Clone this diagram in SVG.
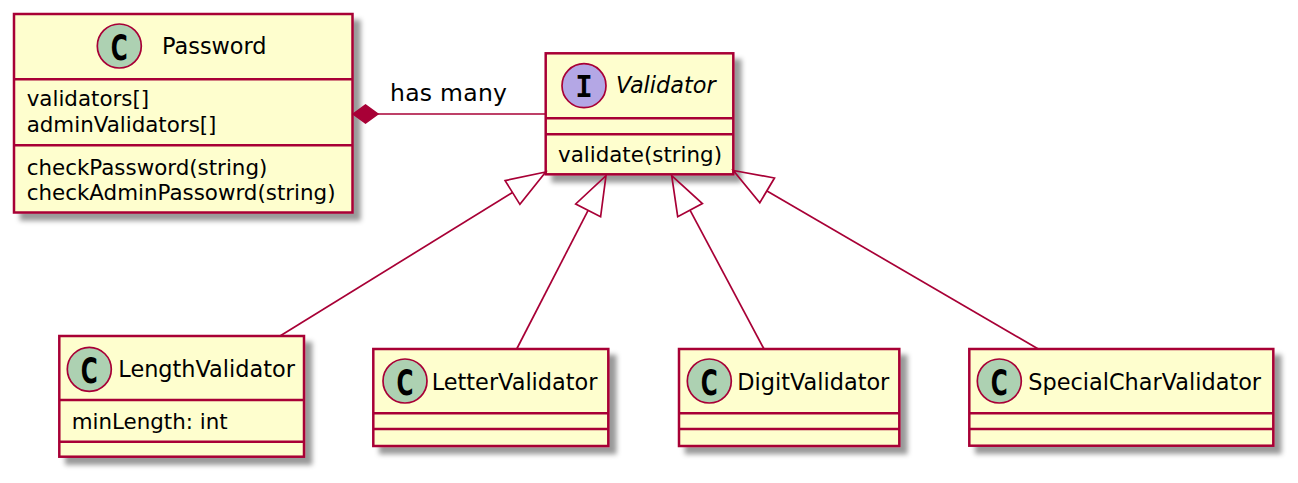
<svg xmlns="http://www.w3.org/2000/svg" width="1298" height="483" viewBox="0 0 1298 483">
<defs>
<filter id="sh" x="-10%" y="-10%" width="130%" height="140%">
<feGaussianBlur in="SourceAlpha" stdDeviation="2.5" result="b"/>
<feOffset in="b" dx="7" dy="7" result="o"/>
<feFlood flood-color="#000" flood-opacity="0.4"/>
<feComposite in2="o" operator="in" result="s"/>
<feMerge><feMergeNode in="s"/><feMergeNode in="SourceGraphic"/></feMerge>
</filter>
</defs>
<style>
.box{fill:#FEFECE;stroke:#A80036;stroke-width:2.5}
.div{stroke:#A80036;stroke-width:2.5}
.cc{fill:#ADD1B2;stroke:#A80036;stroke-width:1.7}
.ci{fill:#B4A7E5;stroke:#A80036;stroke-width:1.7}
.g{font-family:"DejaVu Sans Bold","DejaVu Sans",sans-serif;font-weight:bold;font-size:36px;fill:#000}
.gi{font-family:"Liberation Mono","DejaVu Sans Mono",monospace;font-weight:bold;font-size:34px;fill:#000}
.t{font-family:"DejaVu Sans",sans-serif;font-size:22.4px;fill:#000}
.ti{font-family:"DejaVu Sans",sans-serif;font-style:italic;font-size:22.4px;fill:#000}
.m{font-family:"DejaVu Sans",sans-serif;font-size:21.4px;fill:#000}
.lb{font-family:"DejaVu Sans",sans-serif;font-size:23.5px;fill:#000}
.ln{stroke:#A80036;stroke-width:1.7;fill:none}
.ah{stroke:#A80036;stroke-width:1.7;fill:none}
.dm{fill:#A80036;stroke:#A80036;stroke-width:1.5}
</style>

<g id="Password">
<rect class="box" x="14" y="14" width="338.5" height="198.5" filter="url(#sh)"/>
<line class="div" x1="14" y1="79.3" x2="352.5" y2="79.3"/>
<line class="div" x1="14" y1="145.3" x2="352.5" y2="145.3"/>
<circle class="cc" cx="119.3" cy="46" r="22"/>
<text class="g" x="110.8" y="59.5" textLength="17" lengthAdjust="spacingAndGlyphs">C</text>
<text class="t" x="162" y="54.3">Password</text>
<text class="m" x="26.7" y="106">validators[]</text>
<text class="m" x="26.7" y="131.7">adminValidators[]</text>
<text class="m" x="26.7" y="175">checkPassword(string)</text>
<text class="m" x="26.7" y="200.3">checkAdminPassowrd(string)</text>
</g>

<g id="Validator">
<rect class="box" x="545.7" y="53.3" width="187.6" height="121" filter="url(#sh)"/>
<line class="div" x1="545.7" y1="118.3" x2="733.3" y2="118.3"/>
<line class="div" x1="545.7" y1="134.3" x2="733.3" y2="134.3"/>
<circle class="ci" cx="584" cy="85.7" r="22"/>
<text class="gi" x="575.5" y="96.7" textLength="17" lengthAdjust="spacingAndGlyphs">I</text>
<text class="ti" x="616" y="93.3">Validator</text>
<text class="m" x="558" y="161.7">validate(string)</text>
</g>

<g id="LengthValidator">
<rect class="box" x="59.3" y="336" width="244.7" height="120.7" filter="url(#sh)"/>
<line class="div" x1="59.3" y1="400" x2="304" y2="400"/>
<line class="div" x1="59.3" y1="441.7" x2="304" y2="441.7"/>
<circle class="cc" cx="89.3" cy="369.3" r="22"/>
<text class="g" x="80.8" y="382.8" textLength="17" lengthAdjust="spacingAndGlyphs">C</text>
<text class="t" x="118.3" y="376.7">LengthValidator</text>
<text class="m" x="71.7" y="429.3">minLength: int</text>
</g>

<g id="LetterValidator">
<rect class="box" x="373.3" y="349" width="235" height="97" filter="url(#sh)"/>
<line class="div" x1="373.3" y1="413.3" x2="608.3" y2="413.3"/>
<line class="div" x1="373.3" y1="429" x2="608.3" y2="429"/>
<circle class="cc" cx="405" cy="381" r="22"/>
<text class="g" x="396.5" y="394.5" textLength="17" lengthAdjust="spacingAndGlyphs">C</text>
<text class="t" x="431.7" y="390">LetterValidator</text>
</g>

<g id="DigitValidator">
<rect class="box" x="679" y="349" width="220.3" height="97" filter="url(#sh)"/>
<line class="div" x1="679" y1="413.3" x2="899.3" y2="413.3"/>
<line class="div" x1="679" y1="429" x2="899.3" y2="429"/>
<circle class="cc" cx="709.3" cy="381" r="22"/>
<text class="g" x="700.8" y="394.5" textLength="17" lengthAdjust="spacingAndGlyphs">C</text>
<text class="t" x="737.3" y="390">DigitValidator</text>
</g>

<g id="SpecialCharValidator">
<rect class="box" x="969.3" y="349" width="304" height="96.7" filter="url(#sh)"/>
<line class="div" x1="969.3" y1="413.3" x2="1273.3" y2="413.3"/>
<line class="div" x1="969.3" y1="429" x2="1273.3" y2="429"/>
<circle class="cc" cx="999.3" cy="381" r="22"/>
<text class="g" x="990.8" y="394.5" textLength="17" lengthAdjust="spacingAndGlyphs">C</text>
<text class="t" x="1028.3" y="390">SpecialCharValidator</text>
</g>

<g id="connectors">
<line class="ln" x1="378" y1="114" x2="545.7" y2="114"/>
<polygon class="dm" points="353,114 365.5,105 378,114 365.5,123"/>
<text class="lb" x="390" y="101" textLength="117" lengthAdjust="spacing">has many</text>

<line class="ln" x1="280" y1="336" x2="512.5" y2="192.5"/>
<polygon class="ah" points="545.7,172 519.9,204.4 505.1,180.6"/>

<line class="ln" x1="516.7" y1="349" x2="588.1" y2="210.4"/>
<polygon class="ah" points="606,175.7 600.6,216.8 575.7,204"/>

<line class="ln" x1="764" y1="349" x2="690" y2="210.1"/>
<polygon class="ah" points="671.7,175.7 702.4,203.5 677.7,216.7"/>

<line class="ln" x1="1038.3" y1="349" x2="767" y2="191"/>
<polygon class="ah" points="733.3,170.5 774.5,178 759.8,202.7"/>
</g>
</svg>
